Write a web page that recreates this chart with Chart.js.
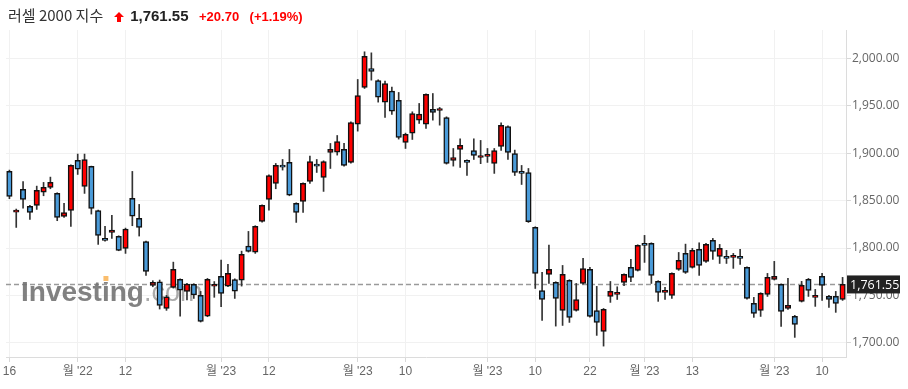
<!DOCTYPE html>
<html>
<head>
<meta charset="utf-8">
<script src="https://cdn.jsdelivr.net/npm/chart.js@4"></script>
<style>
  body { margin: 0; background: #fff; }
  #wrap { position: relative; width: 908px; height: 389px; }
  #title { position: absolute; left: 8px; top: 5px; height: 20px; line-height: 20px; white-space: nowrap; font-family: "Liberation Sans", Arial, sans-serif; }
  #title .name { font-family: "Noto Sans CJK KR", sans-serif; font-size: 15px; color: #333; }
  #title .last { font-size: 15px; font-weight: bold; color: #222; margin-left: 2px; }
  #title .chg { font-size: 13px; font-weight: bold; color: #f00; margin-left: 6px; }
  #title svg { vertical-align: -1px; margin-left: 6px; }
</style>
</head>
<body>
<div id="wrap">
  <canvas id="chart" width="908" height="389"></canvas>
  <div id="title">
    <span class="name">러셀 2000 지수</span>
    <svg width="10" height="10" viewBox="0 0 10 10"><path d="M5 0 L10 5 L7 5 L7 10 L3 10 L3 5 L0 5 Z" fill="#f00"/></svg>
    <span class="last">1,761.55</span>
    <span class="chg">+20.70</span>
    <span class="chg">(+1.19%)</span>
  </div>
</div>
<script>
// trading days, Nov 2022 - May 2023
const dates = [
  '2022-11-16','2022-11-17','2022-11-18','2022-11-21','2022-11-22','2022-11-23','2022-11-25','2022-11-28','2022-11-29','2022-11-30',
  '2022-12-01','2022-12-02','2022-12-05','2022-12-06','2022-12-07','2022-12-08','2022-12-09','2022-12-12','2022-12-13','2022-12-14',
  '2022-12-15','2022-12-16','2022-12-19','2022-12-20','2022-12-21','2022-12-22','2022-12-23','2022-12-27','2022-12-28','2022-12-29','2022-12-30',
  '2023-01-03','2023-01-04','2023-01-05','2023-01-06','2023-01-09','2023-01-10','2023-01-11','2023-01-12','2023-01-13','2023-01-17',
  '2023-01-18','2023-01-19','2023-01-20','2023-01-23','2023-01-24','2023-01-25','2023-01-26','2023-01-27','2023-01-30','2023-01-31',
  '2023-02-01','2023-02-02','2023-02-03','2023-02-06','2023-02-07','2023-02-08','2023-02-09','2023-02-10','2023-02-13','2023-02-14',
  '2023-02-15','2023-02-16','2023-02-17','2023-02-21','2023-02-22','2023-02-23','2023-02-24','2023-02-27','2023-02-28',
  '2023-03-01','2023-03-02','2023-03-03','2023-03-06','2023-03-07','2023-03-08','2023-03-09','2023-03-10','2023-03-13','2023-03-14',
  '2023-03-15','2023-03-16','2023-03-17','2023-03-20','2023-03-21','2023-03-22','2023-03-23','2023-03-24','2023-03-27','2023-03-28',
  '2023-03-29','2023-03-30','2023-03-31',
  '2023-04-03','2023-04-04','2023-04-05','2023-04-06','2023-04-10','2023-04-11','2023-04-12','2023-04-13','2023-04-14','2023-04-17',
  '2023-04-18','2023-04-19','2023-04-20','2023-04-21','2023-04-24','2023-04-25','2023-04-26','2023-04-27','2023-04-28',
  '2023-05-01','2023-05-02','2023-05-03','2023-05-04','2023-05-05','2023-05-08','2023-05-09','2023-05-10','2023-05-11','2023-05-12','2023-05-15'
];

const opens = [
  1880.8,1837.9,1861.8,1843.9,1844.9,1859.0,1863.9,1857.6,1833.3,1839.6,
  1892.4,1865.0,1886.1,1839.6,1810.1,1816.4,1812.2,1799.6,1852.3,1831.2,
  1806.9,1760.5,1764.4,1736.3,1758.4,1766.9,1754.2,1761.6,1750.0,1728.2,
  1759.8,1770.0,1759.8,1766.8,1766.1,1802.0,1795.7,1828.0,1851.2,1868.1,
  1887.4,1890.3,1847.0,1849.1,1870.2,1888.5,1874.4,1900.8,1901.2,1904.0,
  1890.3,1930.7,1969.4,1989.4,1976.7,1953.9,1965.5,1955.7,1911.4,1921.2,
  1934.9,1930.7,1946.2,1945.1,1937.7,1892.4,1904.0,1892.4,1902.9,1895.5,
  1896.6,1889.2,1907.1,1928.2,1899.7,1880.8,1879.7,1821.7,1755.2,1772.1,
  1763.7,1734.1,1765.8,1734.1,1762.6,1777.4,1734.1,1712.0,1748.9,1751.0,
  1763.7,1779.5,1776.4,1804.8,1804.8,1764.8,1753.2,1750.0,1777.4,1794.3,
  1779.5,1798.5,1785.9,1808.0,1791.1,1791.1,1790.1,1791.1,1779.5,1741.6,
  1734.2,1751.0,1766.9,1761.6,1736.3,1727.8,1743.7,1766.9,1747.9,1770.0,
  1748.9,1748.9,1745.8
];
const highs = [
  1882.2,1841.1,1870.2,1844.9,1865.3,1869.2,1874.8,1858.3,1847.0,1887.8,
  1899.1,1899.1,1886.4,1840.0,1822.8,1834.4,1812.9,1821.0,1880.8,1846.0,
  1807.3,1765.5,1766.2,1750.0,1785.1,1767.6,1762.6,1762.3,1754.2,1767.9,
  1764.6,1787.2,1782.7,1767.5,1796.7,1817.5,1823.5,1845.6,1877.2,1889.2,
  1893.4,1904.0,1847.7,1868.8,1896.9,1893.4,1892.0,1910.3,1918.7,1910.3,
  1933.2,1977.8,2007.0,2005.9,1977.5,1976.1,1969.7,1964.1,1921.2,1943.7,
  1952.5,1962.7,1963.0,1948.3,1938.4,1905.0,1915.2,1893.1,1915.2,1913.5,
  1905.0,1905.0,1932.1,1928.9,1903.3,1887.1,1883.9,1822.4,1774.2,1803.1,
  1764.4,1781.6,1766.5,1762.6,1789.0,1779.5,1759.5,1736.2,1764.7,1759.1,
  1772.8,1788.0,1803.4,1813.3,1805.5,1765.5,1758.4,1773.9,1795.3,1804.1,
  1799.6,1805.5,1804.8,1810.1,1803.8,1797.5,1794.3,1798.5,1780.2,1747.9,
  1752.8,1773.2,1785.9,1762.3,1767.9,1728.9,1764.8,1767.9,1756.3,1773.2,
  1750.0,1754.2,1769.0
];
const lows = [
  1852.0,1821.7,1842.1,1830.2,1840.7,1855.1,1862.5,1828.8,1832.3,1822.8,
  1877.6,1857.6,1835.8,1803.8,1807.3,1810.1,1797.1,1794.3,1823.5,1812.6,
  1771.1,1759.1,1735.6,1734.2,1757.7,1728.2,1745.1,1746.8,1721.9,1727.5,
  1748.0,1738.0,1759.1,1746.8,1759.8,1795.7,1794.3,1827.3,1840.0,1862.5,
  1882.2,1855.1,1827.0,1837.5,1868.1,1879.7,1859.7,1883.9,1898.0,1886.4,
  1889.6,1923.3,1968.3,1977.1,1953.9,1937.7,1940.9,1914.9,1905.0,1914.5,
  1931.4,1926.1,1934.9,1929.6,1888.5,1886.4,1885.0,1876.5,1893.4,1889.0,
  1890.3,1878.7,1902.9,1893.4,1876.5,1867.0,1827.0,1757.3,1723.6,1762.6,
  1717.6,1718.3,1721.5,1733.4,1761.9,1727.1,1707.8,1696.5,1742.6,1745.7,
  1760.2,1764.4,1775.7,1784.8,1762.6,1743.7,1745.8,1746.8,1776.4,1773.2,
  1778.8,1771.1,1784.8,1788.0,1783.7,1783.7,1778.5,1782.7,1746.1,1726.8,
  1727.8,1748.9,1766.2,1717.3,1735.2,1705.7,1743.0,1748.9,1738.4,1744.7,
  1737.3,1732.1,1744.7
];
const closes = [
  1854.4,1840.0,1851.3,1837.5,1860.8,1863.9,1869.2,1832.3,1837.5,1887.1,
  1883.2,1893.4,1841.8,1813.3,1808.0,1818.9,1797.5,1820.0,1833.7,1821.7,
  1775.3,1763.7,1739.4,1748.6,1777.4,1755.6,1761.9,1750.4,1722.6,1766.9,
  1761.6,1752.1,1773.2,1754.5,1793.2,1796.4,1822.8,1844.9,1876.5,1887.1,
  1885.3,1855.8,1837.5,1868.1,1891.3,1886.4,1891.3,1904.0,1912.4,1887.1,
  1932.4,1960.9,2002.1,1986.3,1959.2,1973.6,1944.4,1916.6,1919.8,1941.9,
  1941.2,1962.0,1943.0,1947.2,1889.2,1895.5,1908.2,1890.3,1897.6,1897.6,
  1898.7,1902.9,1929.3,1900.8,1879.7,1878.7,1827.7,1773.2,1745.7,1777.4,
  1746.8,1772.1,1726.8,1745.7,1778.4,1727.8,1721.5,1735.2,1754.2,1753.1,
  1772.1,1769.0,1802.7,1802.7,1771.1,1753.2,1755.3,1773.2,1786.9,1774.2,
  1797.5,1781.6,1803.8,1796.4,1799.6,1789.0,1792.2,1789.0,1746.8,1731.0,
  1752.1,1769.0,1770.0,1733.1,1739.4,1719.4,1760.5,1755.3,1750.0,1760.5,
  1745.8,1741.6,1761.55
];

// x axis labels shown on the chart
const tickDates = ['2022-11-16','2022-12-01','2022-12-12','2023-01-03','2023-01-12','2023-02-01','2023-02-10',
                   '2023-03-01','2023-03-10','2023-03-22','2023-04-03','2023-04-13','2023-05-01','2023-05-10'];
const tickTexts = ['16',"월 '22",'12',"월 '23",'12',"월 '23",'10',"월 '23",'10','22',"월 '23",'13',"월 '23",'10'];
const yTicks = [1700, 1750, 1800, 1850, 1900, 1950, 2000];

const UP = '#ff0000';
const DOWN = '#4a9bd9';
const lastClose = closes[closes.length - 1];

const fmt = v => v.toLocaleString('en-US', { minimumFractionDigits: 2, maximumFractionDigits: 2 });
const tickLabel = i => {
  const k = tickDates.indexOf(dates[i]);
  return k >= 0 ? tickTexts[k] : null;
};

const bodies = dates.map((_, i) => [opens[i], closes[i]]);
const wicks = dates.map((_, i) => [lows[i], highs[i]]);
const bodyColors = dates.map((_, i) => closes[i] >= opens[i] ? UP : DOWN);

// dashed last-price line + watermark under the candles, price tag on top
const overlay = {
  id: 'overlay',
  beforeDatasetsDraw(chart) {
    const { ctx, chartArea, scales } = chart;
    const y = scales.y.getPixelForValue(lastClose);
    ctx.save();
    ctx.strokeStyle = '#9a9a9a';
    ctx.lineWidth = 1.5;
    ctx.setLineDash([5, 3]);
    ctx.beginPath();
    ctx.moveTo(chartArea.left, y);
    ctx.lineTo(chartArea.right, y);
    ctx.stroke();
    ctx.setLineDash([]);

    ctx.textBaseline = 'alphabetic';
    ctx.font = 'bold 28px "Liberation Sans", Arial, sans-serif';
    ctx.fillStyle = 'rgba(115,115,115,0.9)';
    ctx.fillText('Investing', 21, 301);
    const w = ctx.measureText('Investing').width;
    const wi = ctx.measureText('Invest').width;
    ctx.font = '27px "Liberation Sans", Arial, sans-serif';
    ctx.fillStyle = 'rgba(150,150,150,0.8)';
    ctx.fillText('.com', 21 + w, 301);
    // orange accent on the dot of the "i"
    ctx.fillStyle = '#fff';
    ctx.fillRect(21 + wi, 276, 8, 6);
    ctx.fillStyle = 'rgba(250,185,100,0.95)';
    ctx.fillRect(21 + wi + 1.5, 276, 5, 5);
    ctx.restore();
  },
  afterDraw(chart) {
    const { ctx, chartArea, scales } = chart;
    const y = scales.y.getPixelForValue(lastClose);
    ctx.save();
    ctx.fillStyle = '#222';
    ctx.fillRect(chartArea.right + 1, y - 9, 53, 18);
    ctx.fillStyle = '#fff';
    ctx.font = '12.5px "Open Sans", sans-serif';
    ctx.textBaseline = 'middle';
    ctx.fillText(fmt(lastClose), chartArea.right + 4, y + 0.5);
    ctx.restore();
  }
};

new Chart(document.getElementById('chart'), {
  type: 'bar',
  data: {
    labels: dates,
    datasets: [
      {
        label: 'wick',
        data: wicks,
        backgroundColor: '#333',
        barThickness: 1,
        grouped: false,
        order: 2
      },
      {
        label: 'body',
        data: bodies,
        backgroundColor: bodyColors,
        borderColor: '#111',
        borderWidth: 1.5,
        borderSkipped: false,
        barThickness: 5.5,
        grouped: false,
        order: 1
      }
    ]
  },
  options: {
    responsive: false,
    animation: false,
    layout: { padding: { top: 30, left: 6 } },
    plugins: { legend: { display: false }, tooltip: { enabled: false } },
    scales: {
      x: {
        offset: true,
        grid: { offset: false, color: '#f1f1f1', tickColor: '#d8d8d8', tickLength: 5 },
        border: { color: '#dcdcdc' },
        ticks: {
          autoSkip: false,
          maxRotation: 0,
          padding: 2,
          color: '#666',
          font: { family: '"Liberation Sans Narrow", "Liberation Sans", "Noto Sans CJK KR", sans-serif', size: 12 },
          callback: (v, i) => tickLabel(i)
        },
        afterFit: s => { s.height = 32; }
      },
      y: {
        position: 'right',
        min: 1685,
        max: 2030,
        afterBuildTicks: s => { s.ticks = yTicks.map(v => ({ value: v })); },
        grid: { color: '#f1f1f1', tickColor: '#d8d8d8', tickLength: 5 },
        border: { color: '#dcdcdc' },
        ticks: {
          padding: 1,
          color: '#666',
          font: { family: '"Open Sans", sans-serif', size: 12 },
          callback: v => fmt(v)
        },
        afterFit: s => { s.width = 62; }
      }
    }
  },
  plugins: [overlay]
});
</script>
</body>
</html>
